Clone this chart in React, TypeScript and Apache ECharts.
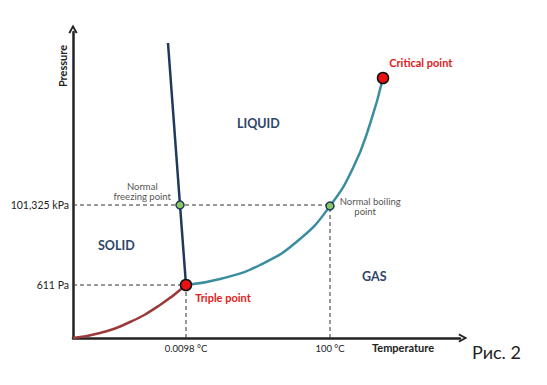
import React, { useEffect, useRef } from "react";
import * as echarts from "echarts";

// Schematic phase diagram (arbitrary units)
const xMax = 387;
const yMax = 306;
const fusionCurve: [number, number][] = [[95, 295], [107, 133], [113, 53]];
const sublimationCurve: [number, number][] = [[0, 0], [27, 5], [57, 16], [87, 33], [113, 53]];
const vaporCurve: [number, number][] = [[113, 53], [147, 59], [187, 73], [227, 99], [257, 132], [280, 170], [297, 214], [310, 260]];
const triplePoint: [number, number] = [113, 53];
const criticalPoint: [number, number] = [310, 260];
const freezingPoint: [number, number] = [107, 133];
const boilingPoint: [number, number] = [257, 132];
const yTickValues = [53, 133];
const yTickLabels = ["611 Pa", "101,325 kPa"];
const xTickValues = [113, 257];
const xTickLabels = ["0.0098 °C", "100 °C"];

const FONT = "Lato, 'Open Sans', sans-serif";
const CHEVRON = "path://M0,9 L5,0 L10,9 L8,9.8 L5,4 L2,9.8 Z";

export default function App() {
  const ref = useRef<HTMLDivElement>(null);
  useEffect(() => {
    document.body.style.margin = "0";
    const chart = echarts.init(ref.current!, null, { renderer: "svg" });
    const dashed = { color: "#333", width: 1, type: [4, 3] as any };
    chart.setOption({
      animation: false,
      backgroundColor: "#fff",
      textStyle: { fontFamily: FONT },
      grid: { left: 73, right: 87, top: 32, bottom: 47 },
      xAxis: {
        type: "value", min: 0, max: xMax,
        splitLine: { show: false },
        axisTick: { show: false },
        axisLine: { lineStyle: { color: "#222", width: 2.5 }, symbol: ["none", CHEVRON], symbolSize: [11, 9], symbolOffset: [0, 3] },
        axisLabel: {
          customValues: xTickValues,
          formatter: (v: number) => xTickLabels[xTickValues.indexOf(v)] ?? "",
          fontSize: 9.5, color: "#222", margin: 5,
        },
      },
      yAxis: {
        type: "value", min: 0, max: yMax,
        splitLine: { show: false },
        axisTick: { show: false },
        axisLine: { lineStyle: { color: "#222", width: 2.5 }, symbol: ["none", CHEVRON], symbolSize: [11, 9], symbolOffset: [0, 3] },
        axisLabel: {
          customValues: yTickValues,
          formatter: (v: number) => yTickLabels[yTickValues.indexOf(v)] ?? "",
          fontSize: 10.5, color: "#222", margin: 4,
        },
      },
      series: [
        { type: "line", data: [[0, freezingPoint[1]], freezingPoint, [boilingPoint[0], freezingPoint[1]]], symbol: "none", lineStyle: dashed, z: 1 },
        { type: "line", data: [[0, triplePoint[1]], triplePoint], symbol: "none", lineStyle: dashed, z: 1 },
        { type: "line", data: [[triplePoint[0], 0], triplePoint], symbol: "none", lineStyle: dashed, z: 1 },
        { type: "line", data: [[boilingPoint[0], 0], boilingPoint], symbol: "none", lineStyle: dashed, z: 1 },
        { type: "line", data: sublimationCurve, smooth: true, symbol: "none", lineStyle: { color: "#9b3a3a", width: 2.5 }, z: 2 },
        { type: "line", data: vaporCurve, smooth: true, symbol: "none", lineStyle: { color: "#3a8d9e", width: 2.5 }, z: 2 },
        { type: "line", data: fusionCurve, symbol: "none", lineStyle: { color: "#1d3a5c", width: 2.5 }, z: 3 },
        {
          type: "scatter", z: 5, symbolSize: 11,
          itemStyle: { color: "#ee1111", borderColor: "#111", borderWidth: 1.5, opacity: 1 },
          data: [
            { value: triplePoint, label: { show: true, formatter: "Triple point", position: "right", offset: [-2, 12], color: "#e01b1b", fontWeight: "bold", fontSize: 11 } },
            { value: criticalPoint, label: { show: true, formatter: "Critical point", position: "right", offset: [-5, -16], color: "#e01b1b", fontWeight: "bold", fontSize: 11 } },
          ],
        },
        {
          type: "scatter", z: 5, symbolSize: 8,
          itemStyle: { color: "#8bc860", borderColor: "#1d3a5c", borderWidth: 1.5, opacity: 1 },
          data: [
            { value: freezingPoint, label: { show: true, formatter: "Normal\nfreezing point", position: "left", align: "center", offset: [-28, -14], color: "#555", fontSize: 9.5, lineHeight: 10 } },
            { value: boilingPoint, label: { show: true, formatter: "Normal boiling\n      point", position: "right", offset: [0, 0], color: "#555", fontSize: 9.5, lineHeight: 10 } },
          ],
        },
      ],
      graphic: [
        { type: "text", left: 237, top: 117, style: { text: "LIQUID", fontSize: 12.5, fontWeight: "bold", fill: "#2c4668", fontFamily: FONT } },
        { type: "text", left: 98, top: 239, style: { text: "SOLID", fontSize: 12.5, fontWeight: "bold", fill: "#2c4668", fontFamily: FONT } },
        { type: "text", left: 362, top: 270, style: { text: "GAS", fontSize: 12.5, fontWeight: "bold", fill: "#2c4668", fontFamily: FONT } },
        { type: "text", x: 62, y: 66, rotation: Math.PI / 2, style: { text: "Pressure", fontSize: 11, fontWeight: "bold", fill: "#222", fontFamily: FONT, align: "center", verticalAlign: "middle" } },
        { type: "text", left: 372, top: 342, style: { text: "Temperature", fontSize: 11, fontWeight: "bold", fill: "#222", fontFamily: FONT } },
        { type: "text", left: 472, top: 343, style: { text: "Рис. 2", fontSize: 18, fill: "#222", fontFamily: FONT } },
      ],
    });
    return () => chart.dispose();
  }, []);
  return <div ref={ref} style={{ width: 547, height: 385 }} />;
}
